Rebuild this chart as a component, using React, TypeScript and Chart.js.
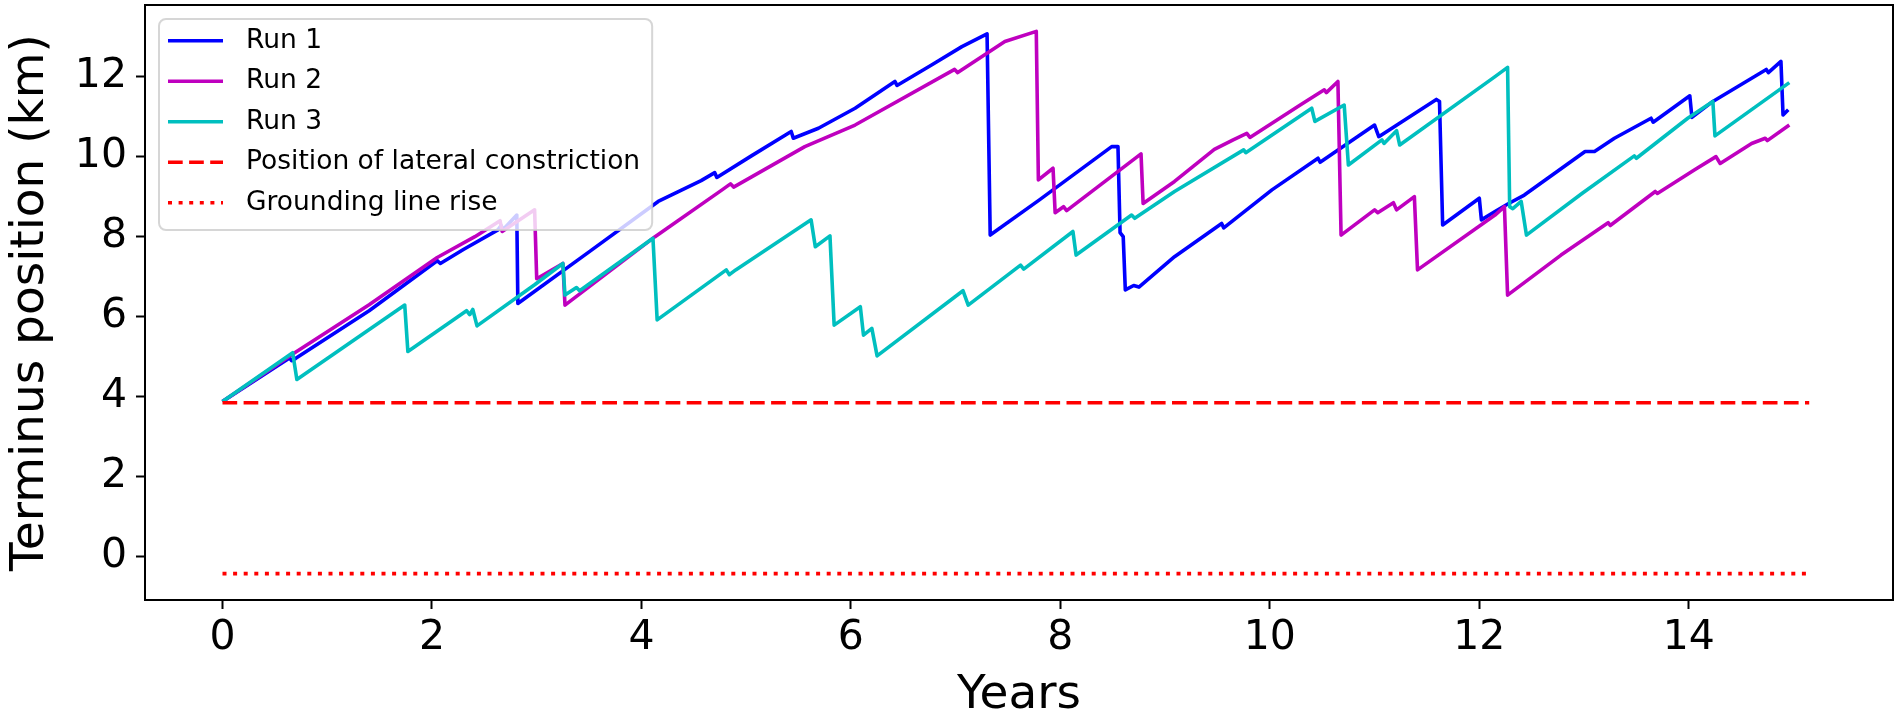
import React, { useEffect, useRef } from 'react';
import { Chart, registerables } from 'chart.js';

Chart.register(...registerables);

// ---- Data ----
const run1Years = [0, 0.64, 0.66, 0.70, 1.40, 2.05, 2.08, 2.30, 2.63, 2.66, 2.68, 2.81, 2.82, 3.50, 4.16, 4.57, 4.70, 4.72, 5.05, 5.43, 5.45, 5.69, 6.04, 6.42, 6.44, 6.77, 7.06, 7.30, 7.33, 7.80, 8.49, 8.55, 8.57, 8.60, 8.62, 8.70, 8.75, 9.09, 9.54, 9.56, 10.02, 10.46, 10.48, 11.00, 11.04, 11.59, 11.62, 11.65, 12.00, 12.02, 12.15, 12.28, 12.43, 13.01, 13.10, 13.29, 13.64, 13.66, 14.01, 14.03, 14.23, 14.74, 14.76, 14.88, 14.90, 14.95];
const run1Km = [3.88, 4.97, 4.90, 4.96, 6.15, 7.40, 7.33, 7.68, 8.17, 8.28, 8.18, 8.54, 6.33, 7.62, 8.88, 9.40, 9.60, 9.48, 10.02, 10.63, 10.46, 10.71, 11.21, 11.88, 11.78, 12.29, 12.75, 13.07, 8.04, 8.92, 10.25, 10.25, 8.10, 8.00, 6.67, 6.78, 6.74, 7.50, 8.33, 8.22, 9.17, 9.96, 9.86, 10.79, 10.50, 11.43, 11.38, 8.29, 8.96, 8.42, 8.63, 8.83, 9.04, 10.13, 10.13, 10.46, 10.96, 10.86, 11.52, 10.98, 11.38, 12.18, 12.10, 12.38, 11.04, 11.17];

const run2Years = [0, 0.66, 1.40, 2.05, 2.41, 2.65, 2.67, 2.98, 3.00, 3.25, 3.27, 4.13, 4.77, 4.85, 4.88, 5.56, 6.04, 6.99, 7.02, 7.47, 7.77, 7.79, 7.93, 7.95, 8.03, 8.06, 8.77, 8.79, 9.09, 9.47, 9.65, 9.78, 9.81, 10.29, 10.52, 10.54, 10.65, 10.68, 11.00, 11.03, 11.18, 11.21, 11.38, 11.41, 12.15, 12.24, 12.27, 12.78, 13.23, 13.25, 13.68, 13.70, 14.06, 14.26, 14.30, 14.60, 14.73, 14.75, 14.96];
const run2Km = [3.88, 5.05, 6.30, 7.48, 8.00, 8.40, 8.13, 8.67, 6.95, 7.33, 6.29, 8.00, 9.17, 9.32, 9.24, 10.25, 10.79, 12.18, 12.10, 12.88, 13.13, 9.42, 9.71, 8.60, 8.75, 8.65, 10.07, 8.83, 9.38, 10.18, 10.42, 10.58, 10.48, 11.29, 11.67, 11.60, 11.88, 8.04, 8.67, 8.60, 8.85, 8.67, 9.00, 7.17, 8.54, 8.75, 6.54, 7.54, 8.35, 8.28, 9.13, 9.08, 9.68, 10.00, 9.83, 10.33, 10.46, 10.40, 10.79];

const run3Years = [0, 0.67, 0.71, 1.74, 1.77, 2.33, 2.36, 2.39, 2.43, 2.98, 3.25, 3.27, 3.38, 3.41, 4.11, 4.15, 4.81, 4.84, 4.90, 5.62, 5.66, 5.80, 5.84, 6.09, 6.12, 6.20, 6.25, 7.07, 7.12, 7.62, 7.65, 8.12, 8.15, 8.68, 8.71, 9.09, 9.75, 9.77, 10.40, 10.43, 10.71, 10.75, 11.07, 11.09, 11.21, 11.24, 12.15, 12.27, 12.29, 12.32, 12.40, 12.45, 12.98, 13.48, 13.50, 13.99, 14.23, 14.25, 14.96];
const run3Km = [3.88, 5.10, 4.43, 6.29, 5.13, 6.15, 6.05, 6.18, 5.77, 6.80, 7.33, 6.54, 6.73, 6.65, 7.96, 5.92, 7.17, 7.05, 7.17, 8.42, 7.75, 8.02, 5.79, 6.25, 5.54, 5.71, 5.02, 6.65, 6.29, 7.29, 7.19, 8.13, 7.54, 8.54, 8.46, 9.13, 10.17, 10.10, 11.21, 10.88, 11.29, 9.79, 10.42, 10.33, 10.65, 10.29, 12.00, 12.23, 8.75, 8.70, 8.88, 8.04, 9.08, 10.02, 9.96, 10.96, 11.38, 10.52, 11.85];

const constrictionYears = [0, 15.15];
const constrictionKm = [3.85, 3.85];
const groundingYears = [0, 15.15];
const groundingKm = [-0.42, -0.42];

const xTicks = [0, 2, 4, 6, 8, 10, 12, 14];
const yTicks = [0, 2, 4, 6, 8, 10, 12];

const seriesLabels = ['Run 1', 'Run 2', 'Run 3', 'Position of lateral constriction', 'Grounding line rise'];
const xTitle = 'Years';
const yTitle = 'Terminus position (km)';

const FONT = "'DejaVu Sans', 'Liberation Sans', sans-serif";

function pts(xs: number[], ys: number[]) {
  return xs.map((x, i) => ({ x, y: ys[i] }));
}

export default function App() {
  const ref = useRef<HTMLCanvasElement>(null);

  useEffect(() => {
    const canvas = ref.current;
    if (!canvas) return;

    const framePlugin = {
      id: 'frame',
      afterDatasetsDraw(chart: any) {
        const { ctx, chartArea } = chart;
        const { left, top, right, bottom } = chartArea;
        ctx.save();
        ctx.strokeStyle = '#000';
        ctx.lineWidth = 2;
        ctx.strokeRect(left, top, right - left, bottom - top);
        ctx.restore();
      },
    };

    const legendPlugin = {
      id: 'mplLegend',
      afterDraw(chart: any) {
        const { ctx, chartArea } = chart;
        const ds = chart.data.datasets;
        const fontSize = 26.5;
        ctx.save();
        ctx.font = `${fontSize}px ${FONT}`;
        let maxW = 0;
        ds.forEach((d: any) => {
          maxW = Math.max(maxW, ctx.measureText(d.label).width);
        });
        const bx = chartArea.left + 14;
        const by = chartArea.top + 14;
        const rowH = 40.5;
        const bw = 87 + maxW + 12;
        const bh = 211;
        const r = 7;
        ctx.beginPath();
        ctx.moveTo(bx + r, by);
        ctx.lineTo(bx + bw - r, by);
        ctx.arcTo(bx + bw, by, bx + bw, by + r, r);
        ctx.lineTo(bx + bw, by + bh - r);
        ctx.arcTo(bx + bw, by + bh, bx + bw - r, by + bh, r);
        ctx.lineTo(bx + r, by + bh);
        ctx.arcTo(bx, by + bh, bx, by + bh - r, r);
        ctx.lineTo(bx, by + r);
        ctx.arcTo(bx, by, bx + r, by, r);
        ctx.closePath();
        ctx.fillStyle = 'rgba(255,255,255,0.8)';
        ctx.fill();
        ctx.strokeStyle = 'rgba(204,204,204,0.8)';
        ctx.lineWidth = 2;
        ctx.stroke();

        ds.forEach((d: any, i: number) => {
          const cy = by + 21.7 + i * rowH;
          ctx.beginPath();
          ctx.strokeStyle = d.borderColor;
          ctx.lineWidth = d.borderWidth;
          ctx.setLineDash(d.borderDash || []);
          ctx.lineCap = 'butt';
          ctx.moveTo(bx + 9, cy);
          ctx.lineTo(bx + 64, cy);
          ctx.stroke();
          ctx.setLineDash([]);
          ctx.fillStyle = '#000';
          ctx.textAlign = 'left';
          ctx.textBaseline = 'middle';
          ctx.fillText(d.label, bx + 87, cy);
        });
        ctx.restore();
      },
    };

    const tickFont = { family: FONT, size: 41, lineHeight: 1 };
    const titleFont = { family: FONT, size: 47, lineHeight: 1 };

    const chart = new Chart(canvas, {
      type: 'line',
      data: {
        datasets: [
          { label: seriesLabels[0], data: pts(run1Years, run1Km), borderColor: '#0000ff', borderWidth: 3.6, order: 5 },
          { label: seriesLabels[1], data: pts(run2Years, run2Km), borderColor: '#bf00bf', borderWidth: 3.6, order: 4 },
          { label: seriesLabels[2], data: pts(run3Years, run3Km), borderColor: '#00bfbf', borderWidth: 3.6, order: 3 },
          { label: seriesLabels[3], data: pts(constrictionYears, constrictionKm), borderColor: '#ff0000', borderWidth: 3.6, borderDash: [14.7, 6.4], order: 2 },
          { label: seriesLabels[4], data: pts(groundingYears, groundingKm), borderColor: '#ff0000', borderWidth: 3.6, borderDash: [4, 6.6], order: 1 },
        ] as any,
      },
      options: {
        responsive: false,
        animation: false,
        devicePixelRatio: 1,
        parsing: false as any,
        normalized: true,
        layout: { padding: { left: 0, right: 7, top: 5, bottom: 0 } },
        elements: {
          point: { radius: 0, hoverRadius: 0 },
          line: { tension: 0, fill: false, borderJoinStyle: 'round', borderCapStyle: 'butt' },
        },
        plugins: { legend: { display: false }, tooltip: { enabled: false } },
        events: [],
        scales: {
          x: {
            type: 'linear',
            position: 'bottom',
            min: -0.74,
            max: 15.95,
            afterBuildTicks: (s: any) => {
              s.ticks = xTicks.map((v) => ({ value: v }));
            },
            afterFit: (s: any) => {
              s.height = 119;
              s.paddingLeft = 0;
              s.paddingRight = 0;
            },
            grid: { display: true, drawOnChartArea: false, drawTicks: true, tickLength: 9, tickWidth: 2, tickColor: '#000' },
            border: { display: true, color: '#000', width: 2 },
            ticks: { color: '#000', font: tickFont, padding: 9, maxRotation: 0, autoSkip: false },
            title: { display: true, text: xTitle, color: '#000', font: titleFont, padding: 0 },
          },
          y: {
            type: 'linear',
            position: 'left',
            min: -1.08,
            max: 13.79,
            afterBuildTicks: (s: any) => {
              s.ticks = yTicks.map((v) => ({ value: v }));
            },
            afterFit: (s: any) => {
              s.width = 145;
              s.paddingTop = 0;
              s.paddingBottom = 0;
            },
            grid: { display: true, drawOnChartArea: false, drawTicks: true, tickLength: 9, tickWidth: 2, tickColor: '#000' },
            border: { display: true, color: '#000', width: 2 },
            ticks: { color: '#000', font: tickFont, padding: 9, autoSkip: false },
            title: { display: true, text: yTitle, color: '#000', font: titleFont, padding: { top: 7.5, bottom: 0 } },
          },
        },
      } as any,
      plugins: [framePlugin, legendPlugin],
    });

    return () => chart.destroy();
  }, []);

  return (
    <div style={{ position: 'absolute', left: 0, top: 0, width: 1900, height: 719, background: '#fff' }}>
      <canvas ref={ref} width={1900} height={719} style={{ display: 'block', width: 1900, height: 719 }} />
    </div>
  );
}
